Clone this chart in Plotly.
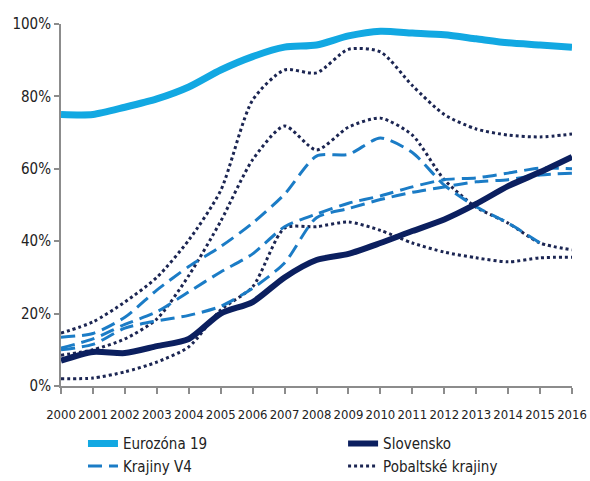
import plotly.graph_objects as go

years = list(range(2000, 2017))

eurozona = [75, 75, 77, 79.3, 82.6, 87.3, 91, 93.6, 94.2, 96.7, 98, 97.5, 97, 95.9, 94.8, 94.2, 93.6]
slovensko = [7, 9.4, 9.1, 11, 13, 20, 23.2, 30, 34.8, 36.5, 39.5, 42.8, 46, 50.3, 55.2, 59.1, 63.3]

v4_a = [13.5, 14.5, 19, 26.5, 33, 38.5, 45, 53, 63.5, 64, 68.5, 64.5, 55.5, 49.5, 45, 39.5, None]
v4_b = [10.5, 13, 17, 20.5, 26, 31.5, 36.5, 44, 47.5, 50.5, 52.5, 55, 57, 57.5, 58.8, 60.2, 60]
v4_c = [10, 11.5, 16, 18, 19.5, 22, 27, 34, 46.5, 49, 51.5, 53.5, 55, 56.4, 57, 58.3, 58.8]

balt_a = [14.6, 17.7, 23.2, 30, 40.3, 54, 79, 87.3, 86.5, 93, 92.3, 83, 75, 71, 69.3, 68.8, 69.6]
balt_b = [8.5, 10, 13, 18.5, 30.5, 45.5, 62.5, 71.8, 65.2, 71.5, 74, 69.3, 57, 49.4, 45, 39.5, 37.6]
balt_c = [2, 2.2, 3.9, 6.6, 10.8, 21, 27.4, 43.6, 44, 45.3, 43, 39.5, 37, 35.4, 34.3, 35.4, 35.6]

y_ticks = [0, 20, 40, 60, 80, 100]
y_labels = ["0%", "20%", "40%", "60%", "80%", "100%"]

C_EURO = "#12a8e2"
C_SK = "#0b1f5f"
C_V4 = "#1b7cc6"
C_BALT = "#1b2552"

FONT = "Liberation Sans Narrow, DejaVu Sans Condensed, Arial Narrow, sans-serif"

fig = go.Figure()

for i, s in enumerate([balt_a, balt_b, balt_c]):
    fig.add_trace(go.Scatter(
        x=years, y=s, mode="lines", name="Pobaltské krajiny",
        legend="legend2", legendgroup="balt", showlegend=(i == 0), legendrank=2,
        line=dict(color=C_BALT, width=3, dash="3px,3px", shape="spline", smoothing=0.7),
    ))

for i, s in enumerate([v4_a, v4_b, v4_c]):
    fig.add_trace(go.Scatter(
        x=years, y=s, mode="lines", name="Krajiny V4",
        legend="legend", legendgroup="v4", showlegend=(i == 0), legendrank=2,
        line=dict(color=C_V4, width=3, dash="14px,7px", shape="spline", smoothing=0.7),
    ))

fig.add_trace(go.Scatter(
    x=years, y=eurozona, mode="lines", name="Eurozóna 19",
    legend="legend", legendgroup="euro", legendrank=1,
    line=dict(color=C_EURO, width=7, shape="spline", smoothing=0.7),
))
fig.add_trace(go.Scatter(
    x=years, y=slovensko, mode="lines", name="Slovensko",
    legend="legend2", legendgroup="sk", legendrank=1,
    line=dict(color=C_SK, width=6, shape="spline", smoothing=0.7),
))

leg_common = dict(
    orientation="v", xanchor="left", yanchor="top", y=-0.114,
    font=dict(family=FONT, size=15, color="#222222"),
    tracegroupgap=8, bgcolor="rgba(0,0,0,0)", traceorder="normal",
)

fig.update_layout(
    width=590, height=481,
    margin=dict(l=61, r=18, t=24, b=95, autoexpand=False),
    paper_bgcolor="white", plot_bgcolor="white",
    font=dict(family=FONT, size=14, color="#222222"),
    showlegend=True,
    legend=dict(x=0.043, **leg_common),
    legend2=dict(x=0.552, **leg_common),
    xaxis=dict(
        range=[2000, 2016], tickmode="array", tickvals=years,
        ticktext=[str(y) for y in years],
        showgrid=False, zeroline=False,
        showline=True, linecolor="#8c8c8c", linewidth=2,
        ticks="outside", ticklen=6, tickwidth=1.5, tickcolor="#8c8c8c",
        tickfont=dict(family=FONT, size=13, color="#222222"),
        tickangle=0, ticklabelstandoff=9,
    ),
    yaxis=dict(
        range=[0, 100], tickmode="array", tickvals=y_ticks, ticktext=y_labels,
        showgrid=False, zeroline=False,
        showline=True, linecolor="#8c8c8c", linewidth=2,
        ticks="outside", ticklen=5, tickwidth=1.5, tickcolor="#8c8c8c",
        tickfont=dict(family=FONT, size=15, color="#222222"),
    ),
)

# Remove the default page margin so the 590x481 figure fills the window exactly.
fig.write_html(
    "out.html",
    config={"displayModeBar": False},
    post_script="document.body.style.margin='0px';document.body.style.overflow='hidden';",
)
